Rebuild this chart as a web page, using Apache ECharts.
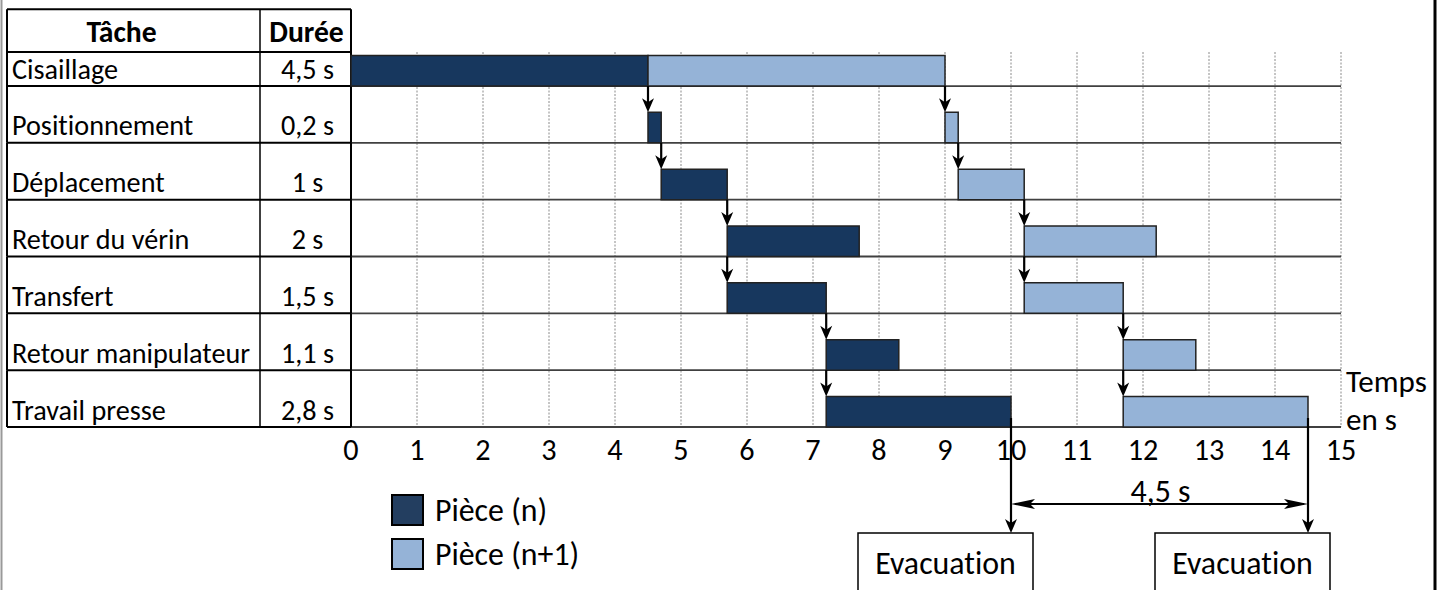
<!DOCTYPE html>
<html><head><meta charset="utf-8">
<script src="https://cdn.jsdelivr.net/npm/echarts@6/dist/echarts.min.js"></script>
<style>html,body{margin:0;padding:0;background:#fff}#c{width:1451px;height:590px}
#c text{font-variant-ligatures:none !important;font-feature-settings:"liga" 0,"clig" 0 !important}</style>
</head><body><div id="c"></div>
<script>
// ---------- data ----------
const headers = ['Tâche', 'Durée'];
const tasks = ['Cisaillage', 'Positionnement', 'Déplacement', 'Retour du vérin', 'Transfert', 'Retour manipulateur', 'Travail presse'];
const durations = ['4,5 s', '0,2 s', '1 s', '2 s', '1,5 s', '1,1 s', '2,8 s'];
const pieceNStart = [0, 4.5, 4.7, 5.7, 5.7, 7.2, 7.2];
const pieceNEnd = [4.5, 4.7, 5.7, 7.7, 7.2, 8.3, 10.0];
const pieceN1Start = [4.5, 9.0, 9.2, 10.2, 10.2, 11.7, 11.7];
const pieceN1End = [9.0, 9.2, 10.2, 12.2, 11.7, 12.8, 14.5];
const xTicks = [0, 1, 2, 3, 4, 5, 6, 7, 8, 9, 10, 11, 12, 13, 14, 15];
// precedence arrows: [time, fromRow, toRow]
const linksN = [[4.5, 0, 1], [4.7, 1, 2], [5.7, 2, 3], [5.7, 3, 4], [7.2, 4, 5], [7.2, 5, 6]];
const linksN1 = [[9.0, 0, 1], [9.2, 1, 2], [10.2, 2, 3], [10.2, 3, 4], [11.7, 4, 5], [11.7, 5, 6]];
const evacuations = [10.0, 14.5];
const evacLabel = 'Evacuation';
const seriesNames = ['Pièce (n)', 'Pièce (n+1)'];
const axisName = 'Temps\nen s';

// ---------- style / layout ----------
const FONT = 'Carlito, Roboto';
const cv = document.createElement('canvas').getContext('2d');
cv.font = '100px ' + FONT;
const FS = Math.round(100 * 238 / cv.measureText('Retour manipulateur').width * 10) / 10;
const FS_HEAD = FS * 1.05, FS_AXIS = FS * 1.07, FS_BIG = FS * 1.13;
const DARK = '#17375E', LIGHT = '#95B3D7';
const BAR_H = 30.5, TABLE_W = 344, DUR_W = 91, FIRST_ROW_H = 34, HEADER_H = 42.7;
const X_MIN = xTicks[0], X_MAX = xTicks[xTicks.length - 1];
const LAST = tasks.length - 1;

function rowBottom(api, row) {
  const c = api.coord([X_MIN, row]);
  return c[1] + api.size([0, 1])[1] / 2;
}
function arrowHead(x, y) {
  return { type: 'polygon', shape: { points: [[x, y], [x - 6, y - 14], [x, y - 10], [x + 6, y - 14]] }, style: { fill: '#000' } };
}
function txt(x, y, s, align, size, bold, lh) {
  const st = { x: x, y: y, text: s, fill: '#000', font: (bold ? 'bold ' : '') + (size || FS) + 'px ' + FONT, textAlign: align, textVerticalAlign: 'middle' };
  if (lh) st.lineHeight = lh;
  return { type: 'text', style: st };
}
function ln(x1, y1, x2, y2, color, w, dash) {
  return { type: 'line', shape: { x1: x1, y1: y1, x2: x2, y2: y2 }, style: { stroke: color, lineWidth: w, lineDash: dash || null } };
}

const chart = echarts.init(document.getElementById('c'), null, { renderer: 'svg' });
chart.setOption({
  backgroundColor: '#fff',
  animation: false,
  grid: { left: 351, right: 110, top: 29.2, bottom: 163, containLabel: false },
  legend: {
    orient: 'vertical', left: 386, top: 489, itemWidth: 31, itemHeight: 30, itemGap: 12,
    icon: 'rect', selectedMode: false,
    textStyle: { fontSize: FS_BIG, fontFamily: FONT, color: '#000', padding: [0, 0, 0, 7] },
    data: [
      { name: seriesNames[0], itemStyle: { color: '#233E60', borderColor: '#000', borderWidth: 2 } },
      { name: seriesNames[1], itemStyle: { color: LIGHT, borderColor: '#000', borderWidth: 2 } }
    ]
  },
  xAxis: {
    type: 'value', min: X_MIN, max: X_MAX, interval: 1,
    axisLine: { show: false }, axisTick: { show: false }, splitLine: { show: false },
    axisLabel: { fontSize: FS_AXIS, fontFamily: FONT, color: '#000', margin: 7 }
  },
  yAxis: {
    type: 'category', data: tasks, inverse: true,
    axisLine: { show: false }, axisTick: { show: false }, axisLabel: { show: false }, splitLine: { show: false }
  },
  series: [
    { // vertical dotted gridlines
      type: 'custom', name: 'grid', clip: false, z: 1, silent: true,
      data: xTicks.slice(1).map(t => [t, 0]),
      renderItem: function (p, api) {
        const x = api.coord([api.value(0), 0])[0];
        const top = rowBottom(api, 0) - FIRST_ROW_H;
        return ln(x, top, x, rowBottom(api, LAST), '#8a8a8a', 1, [2, 1.5]);
      }
    },
    { // table + row lines
      type: 'custom', name: 'table', clip: false, z: 2, silent: true,
      data: tasks.map((t, i) => [X_MIN, i]),
      encode: { x: 0, y: 1 },
      renderItem: function (p, api) {
        const row = api.value(1);
        const x0 = api.coord([X_MIN, row])[0];
        const xe = api.coord([X_MAX, row])[0];
        const band = api.size([0, 1])[1];
        const bottom = rowBottom(api, row);
        const top = row === 0 ? bottom - FIRST_ROW_H : bottom - band;
        const tl = x0 - TABLE_W, cd = x0 - DUR_W;
        const ch = [
          ln(tl, bottom, x0, bottom, '#000', 2),
          ln(x0, bottom, xe, bottom, '#404040', 1.8),
          ln(tl, top, tl, bottom, '#000', 2),
          ln(cd, top, cd, bottom, '#000', 1.5),
          ln(x0, top, x0, bottom, '#000', 2),
          txt(tl + 5, bottom - 17, tasks[row], 'left'),
          txt((cd + x0) / 2 + 2, bottom - 17, durations[row], 'center')
        ];
        if (row === 0) {
          const hb = top, ht = top - HEADER_H;
          ch.push(ln(tl, ht, x0, ht, '#000', 2));
          ch.push(ln(tl, hb, x0, hb, '#000', 2));
          ch.push(ln(tl, ht, tl, hb, '#000', 2));
          ch.push(ln(cd, ht, cd, hb, '#000', 1.5));
          ch.push(ln(x0, ht, x0, hb, '#000', 2));
          ch.push(txt((tl + cd) / 2 - 12, (ht + hb) / 2 + 1, headers[0], 'center', FS_HEAD, true));
          ch.push(txt((cd + x0) / 2 + 1, (ht + hb) / 2 + 1, headers[1], 'center', FS_HEAD, true));
        }
        // axis name at the end of the time axis
        if (row === LAST) {
          ch.push(txt(xe + 5, bottom - 27, axisName, 'left', FS * 1.1, false, 38));
        }
        return { type: 'group', children: ch };
      }
    },
    {
      type: 'custom', name: seriesNames[0], clip: false, z: 3,
      itemStyle: { color: DARK, borderColor: '#000', borderWidth: 2 },
      data: tasks.map((t, i) => [pieceNStart[i], pieceNEnd[i], i]),
      encode: { x: [0, 1], y: 2 },
      renderItem: barItem
    },
    {
      type: 'custom', name: seriesNames[1], clip: false, z: 3,
      itemStyle: { color: LIGHT, borderColor: '#000', borderWidth: 2 },
      data: tasks.map((t, i) => [pieceN1Start[i], pieceN1End[i], i]),
      encode: { x: [0, 1], y: 2 },
      renderItem: barItem
    },
    {
      type: 'custom', name: 'links', clip: false, z: 4, silent: true,
      data: linksN.concat(linksN1),
      encode: { x: 0, y: 1 },
      renderItem: function (p, api) {
        const t = api.value(0), from = api.value(1), to = api.value(2);
        const x = api.coord([t, from])[0];
        const y1 = rowBottom(api, from), y2 = rowBottom(api, to) - BAR_H;
        return { type: 'group', children: [ln(x, y1, x, y2 - 6, '#000', 2.2), arrowHead(x, y2)] };
      }
    },
    {
      type: 'custom', name: 'evac', clip: false, z: 4, silent: true,
      data: evacuations.map(t => [t, LAST]),
      encode: { x: 0, y: 1 },
      renderItem: function (p, api) {
        const x = api.coord([api.value(0), LAST])[0];
        const b = rowBottom(api, LAST);
        const boxTop = b + 106, boxW = 175, boxR = x + 22;
        return {
          type: 'group', children: [
            ln(x, b - 9, x, boxTop - 6, '#000', 2.2),
            arrowHead(x, boxTop),
            { type: 'rect', shape: { x: boxR - boxW, y: boxTop, width: boxW, height: 120 }, style: { fill: '#fff', stroke: '#000', lineWidth: 1.5 } },
            txt(boxR - boxW / 2, boxTop + 30, evacLabel, 'center', FS_BIG)
          ]
        };
      }
    },
    {
      type: 'custom', name: 'cycle', clip: false, z: 4, silent: true,
      data: [[evacuations[0], evacuations[1]]],
      encode: { x: [0, 1] },
      renderItem: function (p, api) {
        const a = api.value(0), bv = api.value(1);
        const xa = api.coord([a, LAST])[0], xb = api.coord([bv, LAST])[0];
        const y = rowBottom(api, LAST) + 77;
        const label = String(Math.round((bv - a) * 10) / 10).replace('.', ',') + ' s';
        const head = (x, dir) => ({ type: 'polygon', shape: { points: [[x, y], [x + dir * 24, y - 5], [x + dir * 19, y], [x + dir * 24, y + 5]] }, style: { fill: '#000' } });
        return {
          type: 'group', children: [
            ln(xa + 4, y, xb - 4, y, '#000', 2),
            head(xa, 1), head(xb, -1),
            txt((xa + xb) / 2 + 1, y - 13, label, 'center', FS_BIG)
          ]
        };
      }
    }
  ],
  graphic: [
    { type: 'line', shape: { x1: 1.5, y1: 0, x2: 1.5, y2: 590 }, style: { stroke: '#999', lineWidth: 2 } },
    { type: 'line', shape: { x1: 1435, y1: 0, x2: 1435, y2: 590 }, style: { stroke: '#000', lineWidth: 3 } }
  ]
});

function barItem(p, api) {
  const row = api.value(2);
  const a = api.coord([api.value(0), row]);
  const b = api.coord([api.value(1), row]);
  const bottom = rowBottom(api, row);
  return {
    type: 'rect',
    shape: { x: a[0], y: bottom - BAR_H, width: b[0] - a[0], height: BAR_H },
    style: { fill: api.visual('color'), stroke: '#222', lineWidth: 1.5 }
  };
}
</script>
</body></html>
